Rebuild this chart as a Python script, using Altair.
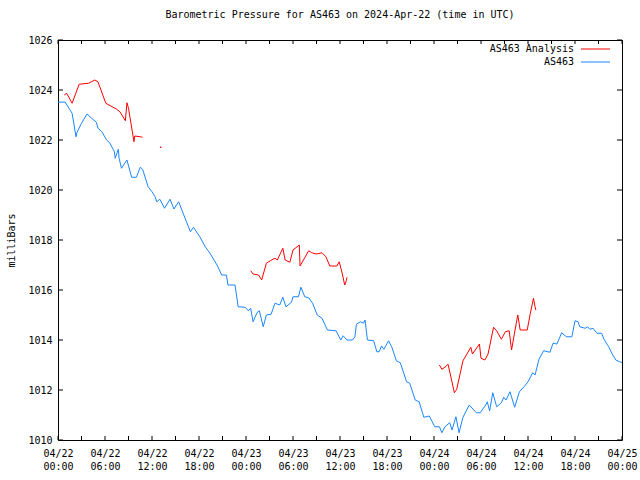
import altair as alt
import pandas as pd

# ---- data (hours since 2024-04-22 00:00 UTC, pressure in mb) ----
blue_hours = [0.0, 0.9, 1.8, 2.3, 2.4, 3.0, 3.7, 4.3, 4.9, 5.1, 5.6, 6.2, 6.6, 7.2, 7.3, 7.7, 7.8, 8.1, 8.8, 9.4,
              10.0, 10.5, 10.8, 11.5, 12.0, 12.4, 12.6, 13.0, 13.6, 14.3, 14.8, 15.4, 16.4, 16.9, 17.3, 18.1, 18.8,
              19.4, 20.3, 20.9, 21.5, 21.7, 22.6, 23.0, 23.9, 24.3, 24.6, 24.9, 25.4, 25.7, 26.2, 26.6, 27.2, 27.7,
              28.3, 28.7, 29.1, 29.8, 30.0, 30.7, 31.0, 31.5, 32.0, 32.5, 33.1, 33.7, 34.4, 35.5, 36.1, 36.4, 36.9,
              37.6, 37.9, 38.1, 38.6, 39.0, 39.2, 39.5, 40.3, 40.7, 41.0, 41.3, 41.6, 42.2, 42.6, 43.2, 43.7, 44.5,
              44.9, 45.6, 46.1, 46.7, 47.4, 48.1, 48.7, 49.0, 49.4, 50.0, 50.3, 50.8, 51.2, 51.7, 52.5, 53.4, 53.9,
              54.6, 54.8, 55.1, 55.5, 56.0, 56.6, 56.9, 57.2, 57.7, 58.3, 58.9, 59.5, 60.0, 60.6, 60.9, 61.4, 62.0,
              62.8, 63.2, 63.7, 64.3, 64.9, 65.6, 66.0, 66.4, 66.6, 67.3, 67.6, 67.9, 68.3, 68.8, 69.4, 69.7, 70.3,
              70.7, 71.2, 71.7, 72.0]
blue_values = [1023.51, 1023.52, 1023.07, 1022.13, 1022.29, 1022.67, 1023.04, 1022.87, 1022.71, 1022.47, 1022.33,
               1022.00, 1021.89, 1021.53, 1021.27, 1021.63, 1021.27, 1020.87, 1021.20, 1020.51, 1020.51, 1020.91,
               1020.83, 1020.13, 1019.93, 1019.73, 1019.53, 1019.63, 1019.27, 1019.63, 1019.24, 1019.53, 1018.73,
               1018.33, 1018.51, 1018.13, 1017.73, 1017.47, 1017.00, 1016.60, 1016.60, 1016.20, 1016.20, 1015.33,
               1015.31, 1015.17, 1015.27, 1014.73, 1015.09, 1015.17, 1014.53, 1015.00, 1015.03, 1015.47, 1015.40,
               1015.71, 1015.33, 1015.51, 1015.73, 1015.73, 1016.11, 1015.73, 1015.69, 1015.47, 1015.00, 1014.87,
               1014.40, 1014.37, 1014.00, 1014.17, 1014.00, 1014.00, 1014.13, 1014.63, 1014.73, 1014.67, 1014.80,
               1014.00, 1013.97, 1013.53, 1013.53, 1013.76, 1013.63, 1013.97, 1013.73, 1013.17, 1013.09, 1012.33,
               1012.27, 1011.60, 1011.53, 1010.91, 1010.96, 1010.53, 1010.53, 1010.29, 1010.53, 1010.69, 1010.40,
               1010.93, 1010.29, 1010.91, 1011.40, 1011.09, 1011.09, 1011.40, 1011.53, 1011.17, 1011.89, 1011.33,
               1011.49, 1011.71, 1011.60, 1011.93, 1011.31, 1011.93, 1012.13, 1012.33, 1012.69, 1012.60, 1013.23,
               1013.57, 1013.51, 1013.87, 1013.84, 1014.29, 1014.13, 1014.13, 1014.77, 1014.73, 1014.53, 1014.47,
               1014.53, 1014.43, 1014.47, 1014.27, 1014.27, 1014.03, 1013.73, 1013.47, 1013.20, 1013.13, 1013.10]

red1_hours = [0.8, 1.1, 1.8, 2.7, 3.9, 4.7, 5.1, 6.1, 7.5, 7.9, 8.6, 8.8, 9.0, 9.7, 9.8, 10.5, 10.8]
red1_values = [1023.80, 1023.87, 1023.47, 1024.23, 1024.27, 1024.40, 1024.33, 1023.47, 1023.23, 1023.13,
               1022.77, 1023.49, 1023.27, 1021.93, 1022.16, 1022.13, 1022.11]

red_dot_hours = [13.1]
red_dot_values = [1021.71]

red2_hours = [24.6, 24.9, 25.6, 26.0, 26.6, 27.1, 27.7, 28.0, 28.7, 29.0, 29.6, 30.0, 30.8, 30.9, 32.0, 32.4,
              33.0, 33.7, 34.2, 34.7, 35.6, 35.9, 36.3, 36.6, 36.8, 36.9]
red2_values = [1016.77, 1016.64, 1016.60, 1016.40, 1017.07, 1017.17, 1017.27, 1017.20, 1017.67, 1017.20, 1017.11,
               1017.60, 1017.80, 1016.96, 1017.57, 1017.49, 1017.44, 1017.49, 1017.33, 1016.96, 1016.96, 1017.13,
               1016.64, 1016.20, 1016.37, 1016.51]

red3_hours = [48.7, 49.0, 49.4, 49.8, 50.6, 50.9, 51.7, 52.7, 52.9, 53.8, 54.0, 54.5, 54.9, 55.6, 56.0, 56.6,
              57.1, 57.6, 57.9, 58.5, 58.7, 59.0, 59.9, 60.3, 60.7, 60.9, 61.0]
red3_values = [1013.00, 1012.83, 1012.91, 1013.03, 1011.89, 1012.03, 1013.17, 1013.71, 1013.44, 1013.84, 1013.27,
               1013.20, 1013.44, 1014.51, 1014.37, 1014.03, 1014.33, 1014.37, 1013.60, 1014.67, 1015.00, 1014.40,
               1014.40, 1015.07, 1015.67, 1015.33, 1015.20]

x_label_hours = list(range(0, 73, 6))
x_tick_hours = list(range(0, 73, 3))
y_tick_values = list(range(1010, 1027, 2))

series_names = ["AS463 Analysis", "AS463"]
RED = "#ff0000"
BLUE = "#1a86ff"
FONT = "DejaVu Sans Mono"

W, H = 564, 400

blue_df = pd.DataFrame({"h": blue_hours, "v": blue_values})
red_df = pd.concat([
    pd.DataFrame({"h": red1_hours, "v": red1_values, "seg": 1}),
    pd.DataFrame({"h": red2_hours, "v": red2_values, "seg": 2}),
    pd.DataFrame({"h": red3_hours, "v": red3_values, "seg": 3}),
], ignore_index=True)
dot_df = pd.DataFrame({"h": red_dot_hours, "v": red_dot_values})
xt_df = pd.DataFrame({"h": x_tick_hours})
yt_df = pd.DataFrame({"v": y_tick_values})

xscale = alt.Scale(domain=[0, 72], nice=False, zero=False)
yscale = alt.Scale(domain=[1010, 1026], nice=False, zero=False)

label_expr = ("['04/' + (22 + floor(datum.value / 24)), "
              "((datum.value % 24) < 10 ? '0' : '') + (datum.value % 24) + ':00']")

x_axis = alt.Axis(values=x_label_hours, labelExpr=label_expr, ticks=False, domain=False, grid=False,
                  title=None, labelFont=FONT, labelFontSize=10, labelColor="black",
                  labelPadding=8, labelBaseline="top", labelLineHeight=13, labelAngle=0,
                  labelFlush=False, labelOverlap=False, labelBound=False, labelAlign="center")
y_axis = alt.Axis(values=y_tick_values, ticks=False, domain=False, grid=False, format="d",
                  title="milliBars", titleFont=FONT, titleFontSize=10, titleFontWeight="normal",
                  titleColor="black", titleAngle=270, titleX=-47, titleY=200,
                  titleAlign="center", titleBaseline="middle",
                  labelFont=FONT, labelFontSize=10, labelColor="black", labelPadding=6,
                  labelFlush=False, labelOverlap=False, labelBound=False)

blue_line = alt.Chart(blue_df).mark_line(color=BLUE, strokeWidth=1).encode(
    x=alt.X("h:Q", scale=xscale, axis=x_axis),
    y=alt.Y("v:Q", scale=yscale, axis=y_axis),
)
red_line = alt.Chart(red_df).mark_line(color=RED, strokeWidth=1).encode(
    x=alt.X("h:Q", scale=xscale),
    y=alt.Y("v:Q", scale=yscale),
    detail="seg:N",
)
red_dot = alt.Chart(dot_df).mark_square(color=RED, size=2, opacity=1).encode(
    x=alt.X("h:Q", scale=xscale),
    y=alt.Y("v:Q", scale=yscale),
)

tk = dict(color="black", strokeWidth=1)
bottom_ticks = alt.Chart(xt_df).mark_rule(**tk).encode(
    x=alt.X("h:Q", scale=xscale), y=alt.value(H), y2=alt.value(H - 4))
top_ticks = alt.Chart(xt_df).mark_rule(**tk).encode(
    x=alt.X("h:Q", scale=xscale), y=alt.value(0), y2=alt.value(4))
left_ticks = alt.Chart(yt_df).mark_rule(**tk).encode(
    y=alt.Y("v:Q", scale=yscale), x=alt.value(0), x2=alt.value(5))
right_ticks = alt.Chart(yt_df).mark_rule(**tk).encode(
    y=alt.Y("v:Q", scale=yscale), x=alt.value(W - 5), x2=alt.value(W))

leg_layers = []
for i, (name, col) in enumerate(zip(series_names, [RED, BLUE])):
    ldf = pd.DataFrame({"name": [name]})
    yy = 9 + 13 * i
    leg_layers.append(alt.Chart(ldf).mark_text(align="right", baseline="middle", font=FONT, fontSize=10,
                                               color="black").encode(
        text="name:N", x=alt.value(516), y=alt.value(yy)))
    leg_layers.append(alt.Chart(ldf).mark_rule(color=col, strokeWidth=1).encode(
        x=alt.value(523), x2=alt.value(552), y=alt.value(yy)))

chart = alt.layer(
    blue_line, red_line, red_dot, bottom_ticks, top_ticks, left_ticks, right_ticks, *leg_layers
).properties(
    width=W, height=H,
    title=alt.TitleParams("Barometric Pressure for AS463 on 2024-Apr-22 (time in UTC)",
                          font=FONT, fontSize=10, fontWeight="normal", color="black",
                          anchor="middle", offset=15),
    autosize=alt.AutoSizeParams(type="none"),
    padding={"left": 58, "top": 40, "right": 18, "bottom": 40},
    background="white",
).configure_view(stroke="black", strokeWidth=1)

chart.save("out.html", embed_options={"renderer": "svg", "actions": False})
